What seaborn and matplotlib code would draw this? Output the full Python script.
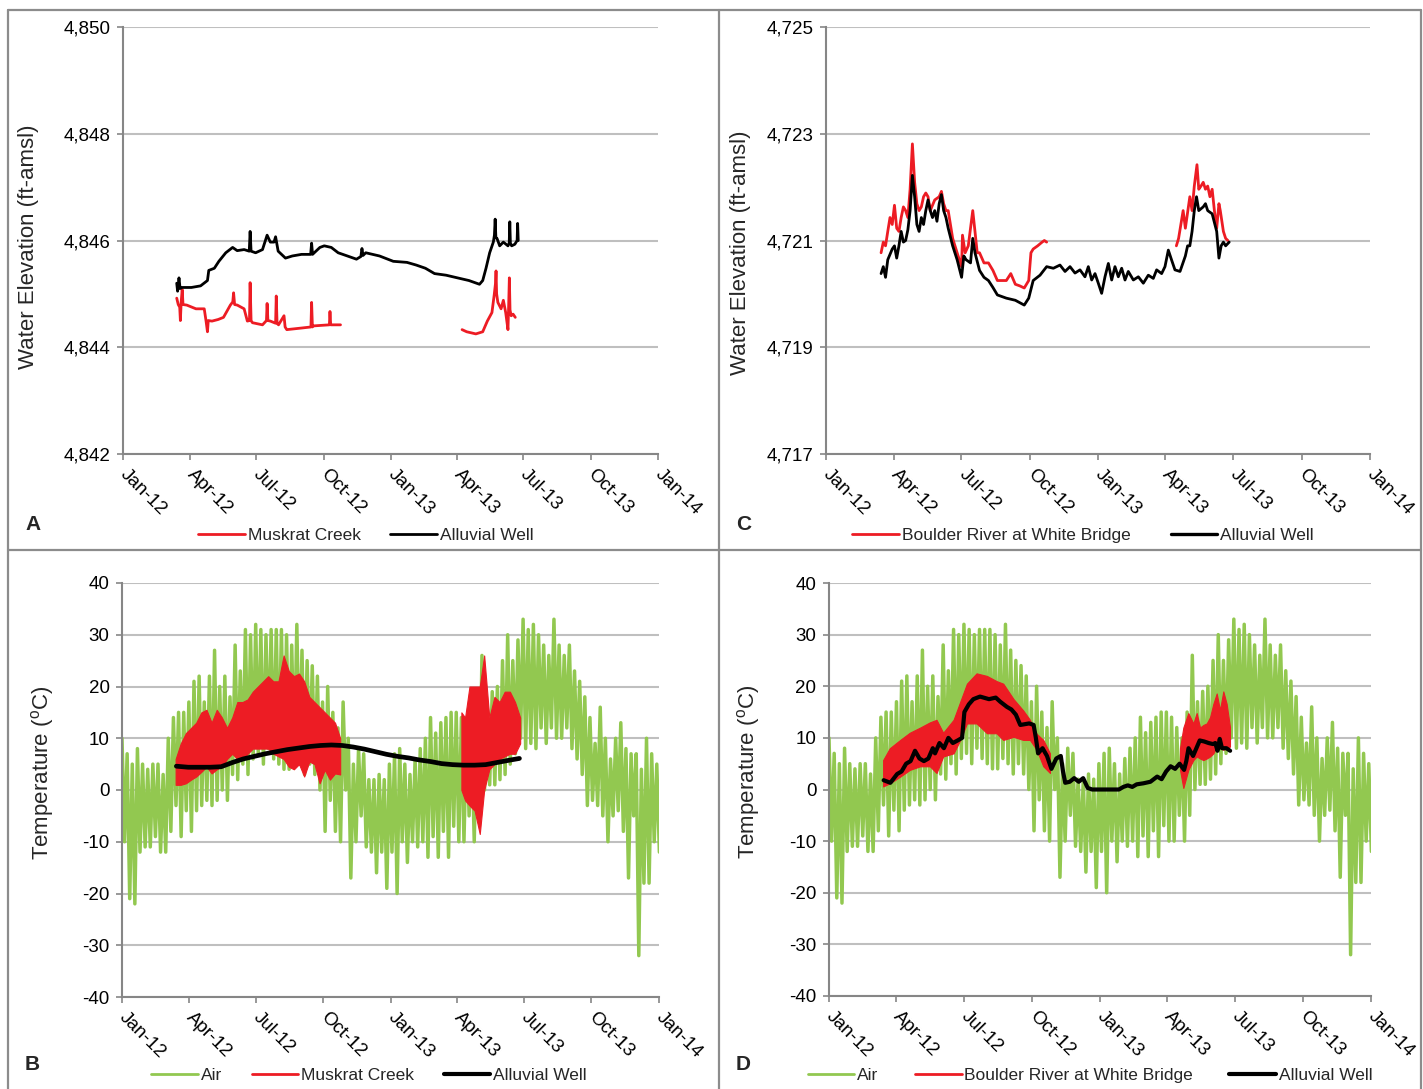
import numpy as np
import pandas as pd
import matplotlib
matplotlib.use("Agg")
import matplotlib.pyplot as plt
import matplotlib.dates as mdates
from matplotlib.lines import Line2D
from matplotlib.ticker import FuncFormatter
import seaborn as sns

# ---------------- data (x values = days since 2012-01-01) ----------------
# Panel A: water elevation, Muskrat Creek site
wellA_day = [73.4, 74.6, 76.5, 78, 80.9, 93.4, 106, 115.4, 117.2, 124.8, 131, 140.4, 149.8, 156, 165.5,
             172.5, 173.7, 175, 181.2, 190.6, 196.9, 201.3, 206.3, 208.5, 212, 222, 231.3, 243.9, 256.4,
             257.7, 259, 269, 275, 284.6, 294, 306.6, 319, 325, 326.5, 328, 331.7, 350.5, 369.3, 388,
             400.6, 413.2, 425.7, 441.4, 457, 472.7, 487.1, 491.5, 496, 501, 506, 507.5, 508.5, 509.5,
             511, 514.7, 519.7, 526, 527.7, 528.5, 529.3, 531, 535.4, 538.5, 539.2, 540]
wellA_val = [4845.2, 4845.05, 4845.3, 4845.1, 4845.12, 4845.12, 4845.15, 4845.25, 4845.44, 4845.48,
             4845.61, 4845.77, 4845.87, 4845.81, 4845.83, 4845.8, 4846.17, 4845.8, 4845.77, 4845.83,
             4846.1, 4845.97, 4845.97, 4846.07, 4845.8, 4845.67, 4845.71, 4845.74, 4845.74, 4845.95,
             4845.74, 4845.87, 4845.9, 4845.87, 4845.77, 4845.71, 4845.65, 4845.7, 4845.85, 4845.72,
             4845.77, 4845.71, 4845.61, 4845.59, 4845.54, 4845.48, 4845.38, 4845.35, 4845.3, 4845.25,
             4845.18, 4845.25, 4845.48, 4845.77, 4845.97, 4846.1, 4846.4, 4846.05, 4846.04, 4845.9,
             4845.97, 4845.9, 4845.95, 4846.35, 4845.95, 4845.9, 4845.93, 4846.0, 4846.32, 4846.0]
creekA1_day = [73.4, 75.5, 77.5, 78.4, 79.5, 80.9, 82, 87.1, 99.7, 111, 113.5, 115.4, 116.5, 121.6, 130,
               137.3, 146.7, 150, 151.1, 152.5, 156.1, 165.5, 169.9, 172.8, 173.7, 175, 176.8, 190.6,
               196, 196.9, 198, 201.3, 208.5, 209.4, 210.5, 212.5, 220, 221.5, 223.8, 243.9, 256.8,
               257.7, 258.8, 260.2, 282, 282.8, 283.8, 297.2]
creekA1_val = [4844.92, 4844.8, 4844.75, 4844.5, 4844.85, 4845.08, 4844.8, 4844.79, 4844.72, 4844.72,
               4844.49, 4844.29, 4844.5, 4844.49, 4844.52, 4844.56, 4844.79, 4844.85, 4845.02, 4844.8,
               4844.79, 4844.72, 4844.49, 4844.5, 4845.21, 4844.5, 4844.46, 4844.42, 4844.5, 4844.82,
               4844.5, 4844.49, 4844.45, 4844.96, 4844.45, 4844.42, 4844.59, 4844.38, 4844.33, 4844.36,
               4844.38, 4844.84, 4844.38, 4844.4, 4844.42, 4844.67, 4844.42, 4844.42]
creekA2_day = [463.3, 469.6, 482.1, 491.5, 497.8, 504.1, 507.2, 509, 509.7, 510.5, 512.2, 516.6, 519.7,
               522.9, 526, 527, 527.9, 528.8, 530.4, 533, 536]
creekA2_val = [4844.33, 4844.29, 4844.25, 4844.29, 4844.49, 4844.65, 4844.98, 4845.2, 4845.43, 4845.0,
               4844.84, 4844.72, 4844.88, 4844.65, 4844.33, 4844.8, 4845.3, 4844.7, 4844.59, 4844.62,
               4844.56]

# Panel C: water elevation, Boulder River site
wellC_day = [74.0, 77.0, 80.0, 83.0, 89.0, 92.0, 95.0, 98.0, 101.0, 104.0, 107.0, 110.0, 113.0, 116.1,
             119.1, 122.1, 125.1, 128.1, 131.1, 134.1, 137.1, 140.1, 143.1, 146.1, 149.1, 152.1, 155.1,
             158.1, 161.2, 164.2, 170.2, 176.2, 182.2, 185.2, 188.2, 194.2, 197.2, 200.2, 206.3, 212.3,
             218.3, 224.3, 230.3, 242.3, 254.4, 266.4, 272.4, 278.4,
             287.6, 296.5, 305.5, 314.4, 321.2, 327.9, 334.6, 341.3, 348.0, 352.5, 357.0, 361.5, 365.9,
             370.4, 374.9, 379.4, 383.9, 388.3, 392.8, 397.3, 401.8, 406.2, 413.0, 419.7, 426.4, 433.1,
             439.8, 444.3, 451.0, 455.5, 460.0, 464.5, 468.9, 475.7,
             482.9, 485.9, 488.9, 491.9, 494.9, 497.9, 500.9, 506.9, 509.9,
             512.9, 518.9, 525.0, 528.0, 531.0, 534.0, 537.0, 541.8]
wellC_val = [4720.38, 4720.51, 4720.31, 4720.64, 4720.84, 4720.90, 4720.67, 4720.90, 4721.17, 4720.97,
             4721.00, 4721.20, 4721.56, 4722.22, 4721.82, 4721.30, 4721.17, 4721.43, 4721.30, 4721.56,
             4721.76, 4721.56, 4721.43, 4721.56, 4721.36, 4721.69, 4721.86, 4721.56, 4721.43, 4721.23,
             4720.90, 4720.64, 4720.31, 4720.71, 4720.64, 4720.58, 4721.04, 4720.77, 4720.44, 4720.31,
             4720.25, 4720.12, 4719.98, 4719.92, 4719.88, 4719.79, 4719.92, 4720.25,
             4720.35, 4720.51, 4720.48, 4720.54, 4720.42, 4720.51, 4720.39, 4720.45, 4720.32, 4720.51,
             4720.26, 4720.38, 4720.20, 4720.01, 4720.32, 4720.57, 4720.26, 4720.51, 4720.32, 4720.48,
             4720.26, 4720.42, 4720.26, 4720.32, 4720.20, 4720.35, 4720.29, 4720.45, 4720.38, 4720.51,
             4720.82, 4720.63, 4720.45, 4720.42,
             4720.71, 4720.90, 4720.90, 4721.17, 4721.56, 4721.82, 4721.56, 4721.63, 4721.69,
             4721.56, 4721.50, 4721.17, 4720.67, 4720.90, 4720.97, 4720.90, 4720.97]
riverC1_day = [74.0, 77.0, 80.0, 83.0, 86.0, 89.0, 92.0, 95.0, 98.0, 101.0, 104.0, 107.0, 110.0, 113.0,
               116.1, 119.1, 122.1, 125.1, 128.1, 131.1, 134.1, 137.1, 140.1, 146.1, 152.1, 155.1, 158.1,
               161.2, 164.2, 170.2, 176.2, 182.2, 183.4, 187.0, 191.2, 194.2, 197.2, 200.2, 203.2, 206.3,
               212.3, 218.3, 224.3, 230.3, 242.3, 248.3, 254.4, 260.4, 266.4, 272.4, 275.4, 278.4, 284.4,
               290.4, 293.4, 296.5]
riverC1_val = [4720.77, 4720.97, 4720.90, 4721.17, 4721.43, 4721.30, 4721.66, 4721.23, 4721.17, 4721.43,
               4721.63, 4721.56, 4721.43, 4721.96, 4722.81, 4722.09, 4721.69, 4721.56, 4721.63, 4721.82,
               4721.89, 4721.82, 4721.56, 4721.76, 4721.82, 4721.92, 4721.69, 4721.56, 4721.56, 4721.04,
               4720.77, 4720.51, 4721.10, 4720.77, 4720.90, 4721.23, 4721.56, 4721.17, 4720.77, 4720.77,
               4720.58, 4720.58, 4720.44, 4720.25, 4720.25, 4720.38, 4720.18, 4720.15, 4720.11, 4720.25,
               4720.77, 4720.84, 4720.90, 4720.97, 4721.00, 4720.97]
riverC2_day = [470.8, 473.8, 479.9, 482.9, 488.9, 491.9, 494.9, 498.5, 500.9, 503.9, 506.9, 509.9, 512.9,
               515.9, 518.9, 521.9, 525.0, 528.0, 529.8, 534.0, 537.0, 540.0]
riverC2_val = [4720.90, 4721.04, 4721.56, 4721.23, 4721.82, 4721.56, 4722.02, 4722.42, 4721.96, 4722.02,
               4722.09, 4721.96, 4722.02, 4721.82, 4721.96, 4721.56, 4721.23, 4721.69, 4721.56, 4721.17,
               4721.04, 4721.00]

# Air temperature (shared by B and D): weekly high / low, week 0 = 2012-01-01
air_hi = [10, 7, 5, 8, 5, 4, 5, 5, 3, 10, 14, 15, 15, 17, 21, 22, 17, 22, 27, 20, 22, 18, 28, 23, 31,
          30, 32, 31, 30, 31, 31, 31, 30, 28, 32, 27, 25, 24, 22, 17, 20, 15, 12, 17, 10, 5, 8, 7, 2, 2,
          3, 2, 5, 7, 8, 5, 3, 6, 8, 10, 14, 11, 13, 14, 15, 15, 14, 12, 10, 15, 26, 17, 19, 20, 25, 30,
          25, 29, 33, 31, 32, 30, 28, 26, 33, 28, 26, 28, 23, 21, 18, 14, 9, 16, 10, 6, 10, 13, 8, 7, 7,
          4, 10, 7, 5]
air_lo = [-10, -21, -22, -12, -11, -11, -9, -12, -12, -8, -3, -9, -4, -8, -4, -3, -2, -3, -2, 0, -2, 3,
          2, 5, 3, 6, 7, 5, 8, 6, 5, 4, 4, 6, 5, 3, 5, 3, 0, -8, -2, -8, -10, 0, -17, -10, -5, -11, -12,
          -16, -12, -19, -12, -20, -10, -14, -10, -11, -10, -13, -9, -13, -8, -13, -7, -10, -10, -5, -10,
          -5, 0, 1, 1, 2, 3, 5, 7, 10, 8, 9, 8, 12, 9, 12, 10, 10, 12, 8, 6, 3, -3, -2, -3, -5, -10, -5,
          -4, -8, -17, -5, -32, -18, -18, -10, -12]

# Panel B: Muskrat Creek water temperature envelope + alluvial well
creekT1_day = [73, 80, 87, 94, 101, 108, 115, 122, 129, 136, 143, 150, 157, 164, 171, 178, 185, 192, 199,
               206, 213, 220, 227, 234, 241, 248, 255, 262, 269, 276, 283, 290, 297]
creekT1_hi = [6, 9, 11, 12, 13, 15, 15.5, 13, 15.5, 14, 12, 14, 17, 17, 17.5, 19, 20, 21, 22, 21, 21, 26,
              23, 22, 22.5, 21, 18, 17, 16, 15, 14, 13, 10]
creekT1_lo = [1, 1, 1.3, 2, 2.6, 3.5, 4.5, 3.2, 4, 4.5, 6, 7, 6, 6, 7, 8, 8, 8, 8, 7, 6.5, 6, 4.5, 4, 5,
              2.6, 5.5, 5, 1.3, 3.9, 2, 3.2, 3]
creekT2_day = [462, 467, 473, 480, 487, 493, 500, 507, 514, 521, 528, 535, 542]
creekT2_hi = [15, 14, 20, 20, 20, 26, 14, 18, 17, 19, 19, 17, 14]
creekT2_lo = [0, -2, -3, -4, -8.5, 0, 4, 5, 6, 6.5, 7, 7, 9]
wellB_day = [74, 90, 105, 120, 135, 150, 165, 180, 195, 210, 225, 240, 255, 270, 285, 300, 315, 330, 345,
             360, 375, 390, 405, 420, 435, 450, 465, 480, 495, 510, 525, 541]
wellB_val = [4.6, 4.4, 4.4, 4.4, 4.5, 5.3, 6.0, 6.5, 7.0, 7.4, 7.8, 8.1, 8.4, 8.6, 8.7, 8.6, 8.3, 7.9,
             7.4, 6.9, 6.5, 6.2, 5.8, 5.5, 5.1, 4.9, 4.8, 4.8, 4.9, 5.3, 5.7, 6.1]

# Panel D: Boulder River water temperature envelope + alluvial well
riverT1_day = [73, 82, 96, 109, 123, 136, 145, 154, 168, 177, 186, 199, 213, 226, 235, 249, 262, 271,
               280, 289, 298]
riverT1_hi = [5.7, 8, 9.6, 11, 12, 13, 13.5, 11, 13.5, 17, 20.5, 22.5, 22, 21, 20.5, 17.5, 15.3, 13.5,
              10.8, 9.6, 7]
riverT1_lo = [0.6, 1.2, 2.5, 3.8, 4.5, 4.5, 3.2, 6.4, 7, 9.6, 12.8, 12.8, 10.9, 10.9, 9.6, 10.2, 9.6,
              9.6, 7.7, 4.5, 3.2]
riverT2_day = [473.4, 477.9, 484.6, 491.4, 495.9, 500.4, 504.9, 509.4, 513.9, 518.4, 522.9, 527.3, 531.8,
               536.3, 540.8]
riverT2_hi = [8, 12, 14.8, 12.8, 14.8, 12, 12.5, 12.8, 14, 16.6, 18.6, 15.4, 19, 16.6, 12.1]
riverT2_lo = [3.8, 0.3, 3.8, 5.7, 6.4, 6, 5.7, 6, 6.4, 7, 8.3, 8, 7.7, 8, 8.3]
wellD_day = [73.7, 82.8, 91.9, 97.9, 104, 110, 116, 122, 128, 134, 140, 143, 149, 155, 161, 167, 173.5,
             179.5, 182.6, 188.6, 194.7, 203.7, 215.8, 224.9, 231, 240, 246, 252, 258, 270, 276, 279,
             282, 288, 294, 300, 306.5, 312.6, 315.6, 318.6, 324.7, 330.7, 336.8, 342.8, 348.9, 354.9,
             367, 379, 391, 397, 403, 409, 415, 424, 433.5, 442.6, 448.6, 454.7, 460.7, 466.8, 472.8,
             478.9, 481.9, 484.9, 491, 494, 500, 506, 512, 518, 521, 524, 527, 530, 536, 541]
wellD_val = [1.8, 1.3, 3, 3.5, 5, 5.5, 7.5, 6, 5.5, 6, 8, 7, 9, 8, 10, 9, 9.5, 10, 15, 16.5, 17.5, 18,
             17.5, 17.8, 17, 16, 15.5, 14.5, 12.5, 12.8, 12.5, 10, 7, 8, 6.5, 4, 6, 6.5, 3.5, 1.3, 1.5,
             2.2, 1.5, 2.2, 0.3, 0, 0, 0, 0, 0.5, 0.8, 0.5, 1, 1.2, 1.5, 2.5, 2, 3.5, 4.5, 4, 5, 3.8,
             5.5, 8, 6.5, 7.5, 9.5, 9.3, 9, 8.8, 9, 7.5, 9.8, 8, 8, 7.5]

xtick_dates = ["2012-01-01", "2012-04-01", "2012-07-01", "2012-10-01", "2013-01-01",
               "2013-04-01", "2013-07-01", "2013-10-01", "2014-01-01"]
elevA_ticks = [4842, 4844, 4846, 4848, 4850]
elevC_ticks = [4717, 4719, 4721, 4723, 4725]
temp_ticks = [-40, -30, -20, -10, 0, 10, 20, 30, 40]

# ---------------- helpers ----------------
T0 = pd.Timestamp("2012-01-01")


def to_dates(days):
    return T0 + pd.to_timedelta(np.asarray(days, dtype=float), unit="D")


# air series: weekly high followed by weekly low half a week later
air_days = np.ravel(np.column_stack([np.arange(len(air_hi)) * 7.0, np.arange(len(air_lo)) * 7.0 + 3.5]))
air_vals = np.ravel(np.column_stack([air_hi, air_lo]))

RED = "#ED1C24"
GREEN = "#92C850"
GRID = "#BFBFBF"
SPINE = "#868686"

sns.set_theme(style="white")
plt.rcParams["font.family"] = ["Liberation Sans", "DejaVu Sans"]
plt.rcParams["axes.unicode_minus"] = False
plt.rcParams["mathtext.default"] = "regular"

W, H = 1423, 1089
fig = plt.figure(figsize=(W / 100, H / 100), dpi=100)


def px_axes(left, top, right, bottom):
    return fig.add_axes([left / W, 1 - bottom / H, (right - left) / W, (bottom - top) / H])


axA = px_axes(123, 27, 658, 454)
axC = px_axes(826, 27, 1370, 454)
axB = px_axes(122, 583, 659, 997)
axD = px_axes(829, 583, 1371, 996)


def line(ax, days, vals, color, lw, z):
    sns.lineplot(x=to_dates(days), y=np.asarray(vals, float), ax=ax, color=color, lw=lw,
                 estimator=None, sort=False, legend=False, zorder=z)


def band(ax, days, lo, hi, color):
    ax.fill_between(to_dates(days), lo, hi, color=color, lw=0.8, edgecolor=color, zorder=3)


def style(ax, ticks, fmt, ylabel, lab_x, lab_y):
    ax.set_xlim(pd.Timestamp(xtick_dates[0]), pd.Timestamp(xtick_dates[-1]))
    ax.set_ylim(ticks[0], ticks[-1])
    ax.set_yticks(ticks)
    ax.yaxis.set_major_formatter(FuncFormatter(fmt))
    ax.set_xticks(pd.to_datetime(xtick_dates))
    ax.xaxis.set_major_formatter(mdates.DateFormatter("%b-%y"))
    ax.grid(False)
    ax.grid(axis="y", color=GRID, lw=1.5)
    ax.set_axisbelow(True)
    for s in ["top", "right"]:
        ax.spines[s].set_visible(False)
    for s in ["left", "bottom"]:
        ax.spines[s].set_color(SPINE)
        ax.spines[s].set_linewidth(1.5)
    ax.tick_params(axis="both", which="major", length=4, width=1.2, color=SPINE, labelsize=13.5,
                   labelcolor="black", direction="out", left=True, bottom=True)
    ax.tick_params(axis="x", pad=9)
    ax.tick_params(axis="y", pad=5)
    for lb in ax.get_xticklabels():
        lb.set_rotation(-45)
        lb.set_ha("left")
        lb.set_va("center")
        lb.set_rotation_mode("anchor")
    ax.set_xlabel("")
    ax.set_ylabel(ylabel, fontsize=16)
    ax.yaxis.set_label_coords(lab_x, lab_y)


elev_fmt = lambda v, p: f"{int(round(v)):,}"
temp_fmt = lambda v, p: f"{int(round(v))}"

# Panel A
line(axA, creekA1_day, creekA1_val, RED, 2.0, 2)
line(axA, creekA2_day, creekA2_val, RED, 2.0, 2)
line(axA, wellA_day, wellA_val, "black", 2.0, 3)
style(axA, elevA_ticks, elev_fmt, "Water Elevation (ft-amsl)", -0.157, 0.486)

# Panel C
line(axC, riverC1_day, riverC1_val, RED, 2.0, 2)
line(axC, riverC2_day, riverC2_val, RED, 2.0, 2)
line(axC, wellC_day, wellC_val, "black", 2.0, 3)
style(axC, elevC_ticks, elev_fmt, "Water Elevation (ft-amsl)", -0.1375, 0.472)

# Panel B
line(axB, air_days, air_vals, GREEN, 2.5, 2)
band(axB, creekT1_day, creekT1_lo, creekT1_hi, RED)
band(axB, creekT2_day, creekT2_lo, creekT2_hi, RED)
line(axB, wellB_day, wellB_val, "black", 3.4, 4)
style(axB, temp_ticks, temp_fmt, "Temperature ($^{o}$C)", -0.123, 0.542)

# Panel D
line(axD, air_days, air_vals, GREEN, 2.5, 2)
band(axD, riverT1_day, riverT1_lo, riverT1_hi, RED)
band(axD, riverT2_day, riverT2_lo, riverT2_hi, RED)
line(axD, wellD_day, wellD_val, "black", 3.0, 4)
style(axD, temp_ticks, temp_fmt, "Temperature ($^{o}$C)", -0.124, 0.544)


# legends
def legend(items, cx, cy, colsp):
    handles = [Line2D([0], [0], color=c, lw=lw) for c, lw, _ in items]
    labels = [t for _, _, t in items]
    fig.legend(handles, labels, loc="center", bbox_to_anchor=(cx / W, 1 - cy / H), ncol=len(items),
               frameon=False, fontsize=12.5, handlelength=2.7, handletextpad=0.15,
               columnspacing=colsp, borderaxespad=0, borderpad=0)


legend([(RED, 2.0, "Muskrat Creek"), ("black", 2.0, "Alluvial Well")], 366, 535, 1.7)
legend([(RED, 2.0, "Boulder River at White Bridge"), ("black", 2.4, "Alluvial Well")], 1083, 535, 2.3)
legend([(GREEN, 2.0, "Air"), (RED, 2.0, "Muskrat Creek"), ("black", 3.0, "Alluvial Well")], 369, 1075, 1.7)
legend([(GREEN, 2.0, "Air"), (RED, 2.0, "Boulder River at White Bridge"), ("black", 3.0, "Alluvial Well")],
       1090, 1075, 2.1)

# panel letters
for t, x, y in [("A", 25, 524), ("C", 736, 524), ("B", 25, 1064), ("D", 736, 1064)]:
    fig.text(x / W, 1 - y / H, t, fontsize=15, fontweight="bold", ha="left", va="center")

# panel frames
frame_kw = dict(transform=fig.transFigure, color="#8C8C8C", lw=1.6)
for xs, ys in [([8, 8], [10, H]), ([8, 1421], [10, 10]), ([719, 719], [10, H]),
               ([8, 1421], [550, 550]), ([1421, 1421], [10, H])]:
    fig.add_artist(Line2D([x / W for x in xs], [1 - y / H for y in ys], **frame_kw))

fig.savefig("out.png", dpi=100, facecolor="white")
